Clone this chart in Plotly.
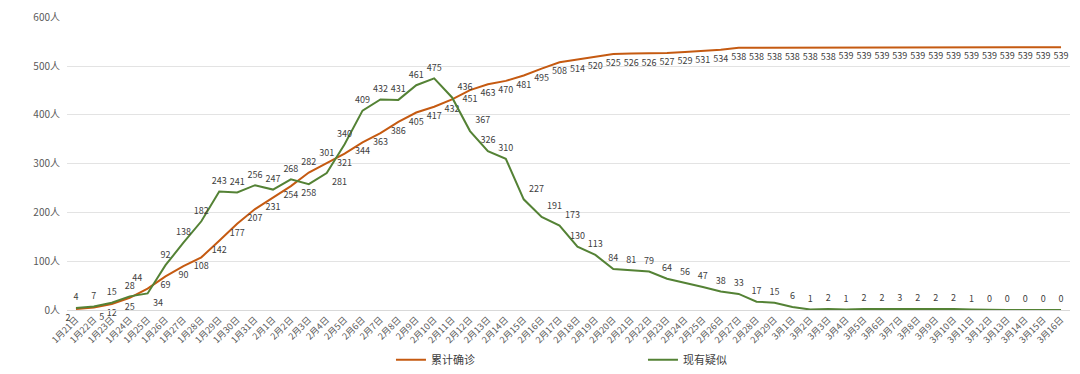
import plotly.graph_objects as go

dates = [f"1月{d}日" for d in range(21, 32)] + [f"2月{d}日" for d in range(1, 30)] + [f"3月{d}日" for d in range(1, 17)]

confirmed = [2, 5, 12, 25, 44, 69, 90, 108, 142, 177, 207, 231, 254, 282, 301, 321, 344, 363, 386, 405,
             417, 432, 451, 463, 470, 481, 495, 508, 514, 520, 525, 526, 526, 527, 529, 531, 534,
             538, 538, 538, 538, 538, 538,
             539, 539, 539, 539, 539, 539, 539, 539, 539, 539, 539, 539, 539]

suspected = [4, 7, 15, 28, 34, 92, 138, 182, 243, 241, 256, 247, 268, 258, 281, 340, 409, 432, 431, 461,
             475, 436, 367, 326, 310, 227, 191, 173, 130, 113, 84, 81, 79, 64, 56, 47, 38, 33, 17, 15,
             6, 1, 2, 1, 2, 2, 3, 2, 2, 2, 1, 0, 0, 0, 0, 0]

y_ticks = [0, 100, 200, 300, 400, 500, 600]
y_tick_text = [f"{v}人" for v in y_ticks]

series_names = ["累计确诊", "现有疑似"]
colors = ["#C55A11", "#548235"]

n = len(dates)
pos_conf = ["bottom center"] * n
pos_conf[0] = "bottom left"
pos_conf[1] = "bottom right"
pos_conf[4] = "top left"
pos_conf[13] = "top center"
pos_conf[14] = "top center"

pos_susp = ["top center"] * n
pos_susp[4] = "bottom right"
pos_susp[13] = "bottom center"
pos_susp[14] = "bottom right"
pos_susp[21] = "top right"
pos_susp[22] = "top right"
pos_susp[25] = "top right"
pos_susp[26] = "top right"
pos_susp[27] = "top right"

FONT = "Noto Sans CJK SC"
fig = go.Figure()
for name, vals, color, pos in [(series_names[0], confirmed, colors[0], pos_conf),
                               (series_names[1], suspected, colors[1], pos_susp)]:
    fig.add_trace(go.Scatter(
        x=list(range(n)), y=vals, mode="lines+markers+text", name=name,
        line=dict(color=color, width=2), marker=dict(size=7, color="rgba(0,0,0,0)"),
        text=[str(v) for v in vals],
        textposition=pos, textfont=dict(size=9, color="#404040", family=FONT),
        cliponaxis=False,
    ))

# page body has an 8px default margin, so the figure is sized to fit the 1080x374 window
fig.update_layout(
    width=1072, height=366,
    margin=dict(l=59, r=10, t=9, b=64, autoexpand=False),
    paper_bgcolor="white", plot_bgcolor="white",
    font=dict(family=FONT, color="#595959", size=10),
    showlegend=True,
    legend=dict(orientation="h", x=0.323, xanchor="left", y=-0.12, yanchor="top",
                font=dict(size=11, color="#404040", family=FONT),
                itemwidth=30, entrywidth=207, tracegroupgap=0),
    xaxis=dict(
        range=[-0.5, n - 0.5], tickmode="array", tickvals=list(range(n)), ticktext=dates,
        tickangle=-45, tickfont=dict(size=9, color="#595959"), showgrid=False,
        showline=True, linecolor="#D9D9D9", linewidth=1, ticks="", zeroline=False,
        automargin=False,
    ),
    yaxis=dict(
        range=[0, 601], tickmode="array", tickvals=y_ticks, ticktext=y_tick_text,
        tickfont=dict(size=10, color="#595959"), showgrid=True, gridcolor="#E3E3E3",
        gridwidth=1, zeroline=False, showline=False, ticks="", ticklabelstandoff=6,
        automargin=False, ticklabeloverflow="allow",
    ),
)

fig.write_html("out.html")
